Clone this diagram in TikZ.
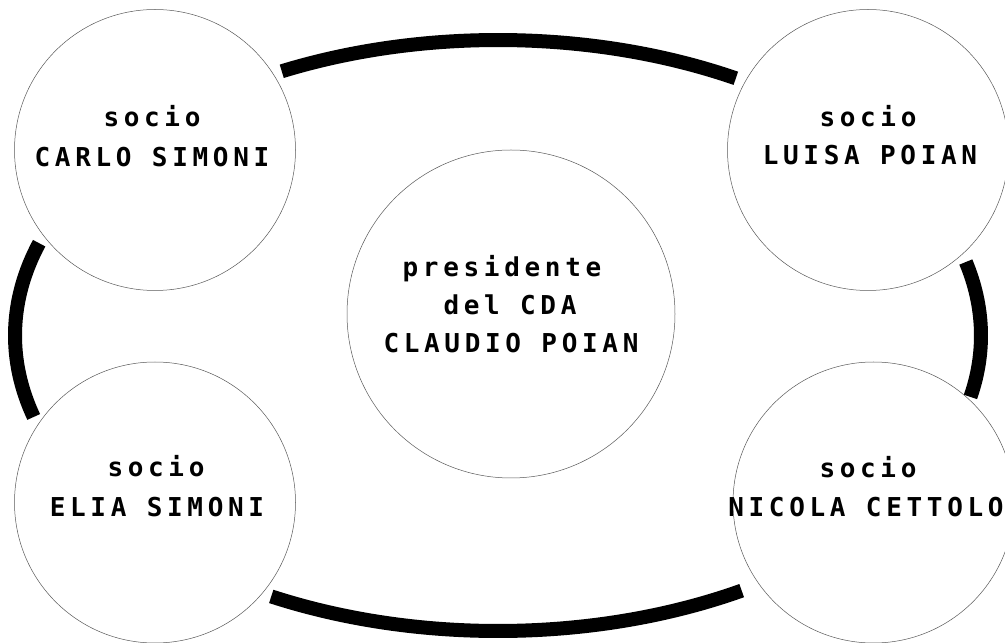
\documentclass[tikz,border=0pt]{standalone}
\usepackage{fontspec}
\newfontfamily\lblfont[LetterSpace=18]{DejaVu Sans Mono}
\begin{document}
\begin{tikzpicture}[x=1pt,y=1pt,
  member/.style={circle, draw=black!65, line width=0.5pt, fill=white, inner sep=0pt},
  txt/.style={font=\lblfont\bfseries\fontsize{26}{30}\selectfont, anchor=base, inner sep=0pt},
  link/.style={line width=14pt, line cap=butt}]
\useasboundingbox (0,0) rectangle (1005,643);
% ring of links (one ellipse, cut between the circles)
\coordinate (E) at (498,307.5);
\draw[link] (E) ++(60.5:483pt and 295.5pt) arc[start angle=60.5, end angle=116.6, x radius=483pt, y radius=295.5pt];
\draw[link] (E) ++(161.8:483pt and 295.5pt) arc[start angle=161.8, end angle=196, x radius=483pt, y radius=295.5pt];
\draw[link] (E) ++(242:483pt and 295.5pt) arc[start angle=242, end angle=300.3, x radius=483pt, y radius=295.5pt];
\draw[link] (E) ++(-12:483pt and 295.5pt) arc[start angle=-12, end angle=14.4, x radius=483pt, y radius=295.5pt];
% circles
\node[member, minimum size=281pt] (tl) at (155,493) {};
\node[member, minimum size=281pt] (tr) at (868,493) {};
\node[member, minimum size=281pt] (bl) at (155,140.5) {};
\node[member, minimum size=281pt] (br) at (873.5,140.5) {};
\node[member, minimum size=328pt] (c) at (511,329) {};
% texts
\node[txt] (tl1) at (152,516) {socio};
\node[txt] (tl2) at (152,476) {CARLO SIMONI};
\node[txt] (tr1) at (868,516) {socio};
\node[txt] (tr2) at (870,478) {LUISA POIAN};
\node[txt] (bl1) at (156,166) {socio};
\node[txt] (bl2) at (157,126) {ELIA SIMONI};
\node[txt] (br1) at (868,165) {socio};
\node[txt] (br2) at (866,126) {NICOLA CETTOLO};
\node[txt] (c1) at (502,366) {presidente};
\node[txt] (c2) at (510,328) {del CDA};
\node[txt] (c3) at (511,290) {CLAUDIO POIAN};
\end{tikzpicture}
\end{document}
